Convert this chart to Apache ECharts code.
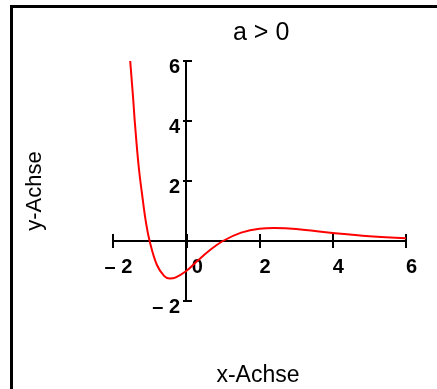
<!DOCTYPE html>
<html>
<head>
<meta charset="utf-8">
<script src="https://cdn.jsdelivr.net/npm/echarts@6/dist/echarts.min.js"></script>
<style>
  html, body { margin: 0; padding: 0; background: #fff; }
  #chart { width: 437px; height: 389px; }
</style>
</head>
<body>
<div id="chart"></div>
<script>
// curve points (x, y)
const curveX = [-1.53, -1.45, -1.4, -1.3, -1.2, -1.1, -1.0, -0.8, -0.6, -0.45, -0.3, 0, 0.3, 0.6, 1.0, 1.5, 2.0, 2.4, 3.0, 4.0, 5.0, 6.0];
const curveY = [6.0, 4.75, 3.9, 2.5, 1.5, 0.62, 0, -0.8, -1.17, -1.25, -1.22, -1.0, -0.67, -0.35, 0, 0.28, 0.41, 0.43, 0.4, 0.27, 0.16, 0.09];

const xTicks = [-2, 0, 2, 4, 6];
const xTickLabels = ['– 2', '0', '2', '4', '6'];
const yTicks = [-2, 0, 2, 4, 6];
const yTickLabels = ['– 2', '', '2', '4', '6'];

const font = 'Liberation Sans, Arial, Helvetica, sans-serif';
const chart = echarts.init(document.getElementById('chart'));

function xLabel(v) {
    const i = xTicks.indexOf(v);
    if (i < 0) return '';
    if (v === 0) return '{z|' + xTickLabels[i] + '}';
    return '{p|' + xTickLabels[i] + '}';
}
function yLabel(v) {
    const i = yTicks.indexOf(v);
    if (i < 0 || !yTickLabels[i]) return '';
    return '{p|' + yTickLabels[i] + '}';
}

// axes are drawn through the origin by offsetting them into the grid
const line = { onZero: false, lineStyle: { color: '#000', width: 2 } };
const tickStyle = { color: '#000', width: 2 };
const labelBase = { fontFamily: font, fontSize: 20, fontWeight: 'bold', color: '#000' };

chart.setOption({
    animation: false,
    backgroundColor: '#fff',
    title: {
        text: 'a > 0',
        left: 228,
        top: 16,
        textStyle: { fontFamily: font, fontSize: 25, fontWeight: 'normal', color: '#000' }
    },
    grid: { left: 113, right: 31, top: 61, bottom: 88, containLabel: false, outerBoundsMode: 'none' },
    xAxis: [{
        type: 'value', min: -2, max: 6, interval: 2,
        position: 'bottom', offset: -60,
        axisLine: line,
        axisTick: { length: 7, lineStyle: tickStyle },
        splitLine: { show: false },
        axisLabel: {
            margin: 16,
            formatter: xLabel,
            rich: {
                p: Object.assign({ padding: [0, 0, 0, 11] }, labelBase),
                z: Object.assign({ padding: [0, 0, 0, 22] }, labelBase)
            }
        }
    }, {
        type: 'value', min: -2, max: 6, interval: 2,
        position: 'top', offset: -180,
        axisLine: line,
        axisTick: { length: 7, lineStyle: tickStyle },
        splitLine: { show: false },
        axisLabel: { show: false }
    }],
    yAxis: [{
        type: 'value', min: -2, max: 6, interval: 2,
        position: 'left', offset: -73,
        axisLine: line,
        axisTick: { length: 3, lineStyle: tickStyle },
        splitLine: { show: false },
        axisLabel: {
            margin: 6,
            formatter: yLabel,
            rich: {
                p: Object.assign({ padding: [12, 0, 0, 0] }, labelBase)
            }
        }
    }, {
        type: 'value', min: -2, max: 6, interval: 2,
        position: 'right', offset: -220,
        axisLine: line,
        axisTick: { length: 6, lineStyle: tickStyle },
        splitLine: { show: false },
        axisLabel: { show: false }
    }],
    graphic: [
        { type: 'line', shape: { x1: 11.5, y1: 5, x2: 11.5, y2: 389 }, style: { stroke: '#000', lineWidth: 3 } },
        { type: 'line', shape: { x1: 10, y1: 6.5, x2: 437, y2: 6.5 }, style: { stroke: '#000', lineWidth: 3 } },
        {
            type: 'text', x: 258, y: 376,
            style: { text: 'x-Achse', font: '23px ' + font, fill: '#000', textAlign: 'center', textVerticalAlign: 'middle' }
        },
        {
            type: 'text', x: 35, y: 191, rotation: Math.PI / 2,
            style: { text: 'y-Achse', font: '22px ' + font, fill: '#000', textAlign: 'center', textVerticalAlign: 'middle' }
        }
    ],
    series: [{
        type: 'line',
        xAxisIndex: 0,
        yAxisIndex: 0,
        data: curveX.map((x, i) => [x, curveY[i]]),
        smooth: 0.4,
        showSymbol: false,
        lineStyle: { color: '#f00', width: 2 },
        z: 3
    }]
});
</script>
</body>
</html>
